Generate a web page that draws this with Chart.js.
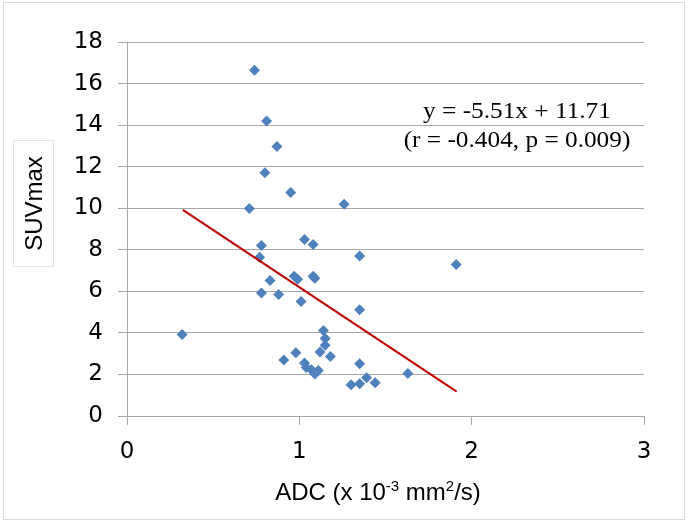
<!DOCTYPE html>
<html>
<head>
<meta charset="utf-8">
<script src="https://cdn.jsdelivr.net/npm/chart.js@4.4.1/dist/chart.umd.min.js"></script>
<style>
  html, body { margin: 0; padding: 0; background: #fff; }
  #wrap { width: 688px; height: 523px; position: relative; }
</style>
</head>
<body>
<div id="wrap"><canvas id="suvChart" width="688" height="523"></canvas></div>
<script>
// ADC (x 10^-3 mm2/s) vs SUVmax
const adcValues = [0.74, 0.81, 0.87, 0.80, 0.95, 0.71, 1.26, 0.78, 0.77, 1.03,
  1.08, 1.35, 1.91, 0.97, 0.99, 1.08, 1.09, 0.83, 0.78, 0.88,
  1.01, 1.35, 0.32, 1.14, 1.15, 1.15, 1.12, 1.18, 0.98, 0.91,
  1.03, 1.04, 1.07, 1.11, 1.09, 1.35, 1.63, 1.30, 1.35, 1.39, 1.44];
const suvValues = [16.64, 14.2, 12.97, 11.71, 10.76, 9.99, 10.19, 8.2, 7.64, 8.5,
  8.26, 7.7, 7.29, 6.73, 6.58, 6.73, 6.63, 6.52, 5.92, 5.85,
  5.51, 5.11, 3.92, 4.12, 3.73, 3.41, 3.08, 2.86, 3.04, 2.69,
  2.55, 2.33, 2.22, 2.19, 2.02, 2.51, 2.05, 1.51, 1.55, 1.84, 1.6];

// regression line end points
const trendX = [0.324, 1.913];
const trendY = [9.92, 1.17];

const xTicks = [0, 1, 2, 3];
const yTicks = [0, 2, 4, 6, 8, 10, 12, 14, 16, 18];

const equationLines = ["y = -5.51x + 11.71", "(r = -0.404, p = 0.009)"];
// x title pieces: [text, superscript?]
const xTitleParts = [["ADC (x 10", false], ["-3", true], [" mm", false], ["2", true], ["/s)", false]];
const yTitle = "SUVmax";

const tickFont = "'DejaVu Sans', Verdana, sans-serif";
const titleFont = "'Liberation Sans', Arial, sans-serif";
const gridColor = "#a6a6a6";

function drawParts(c, parts, cx, baseline, size) {
  const big = size + "px " + titleFont;
  const small = Math.round(size * 0.62) + "px " + titleFont;
  let total = 0;
  parts.forEach(p => { c.font = p[1] ? small : big; total += c.measureText(p[0]).width; });
  let x = cx - total / 2;
  parts.forEach(p => {
    c.font = p[1] ? small : big;
    c.fillText(p[0], x, p[1] ? baseline - size * 0.36 : baseline);
    x += c.measureText(p[0]).width;
  });
}

// extra drawing: frame, titles, equation text
const decorations = {
  id: "decorations",
  afterDraw(chart) {
    const c = chart.ctx;
    c.save();
    // outer frame
    c.strokeStyle = "#d9d9d9";
    c.lineWidth = 1;
    c.strokeRect(3.5, 2.5, 681, 517);
    // y title in a light box
    c.strokeStyle = "#e3e3e3";
    c.strokeRect(13.5, 140.5, 40, 126);
    c.translate(41.5, 203.5);
    c.rotate(-Math.PI / 2);
    c.fillStyle = "#000";
    c.font = "24px " + titleFont;
    c.textAlign = "center";
    c.textBaseline = "alphabetic";
    c.fillText(yTitle, 0, 0);
    c.restore();

    c.save();
    c.fillStyle = "#000";
    c.textAlign = "left";
    c.textBaseline = "alphabetic";
    drawParts(c, xTitleParts, 378, 500, 24);
    c.restore();

    c.save();
    c.fillStyle = "#000";
    c.textAlign = "center";
    c.textBaseline = "alphabetic";
    c.font = "23px 'Liberation Serif', 'Times New Roman', serif";
    c.translate(517, 0);
    c.scale(1.1, 1);
    c.fillText(equationLines[0], 0, 118);
    c.fillText(equationLines[1], 0, 146.5);
    c.restore();
  }
};

const ctx = document.getElementById("suvChart");
const suvChart = new Chart(ctx, {
  type: "scatter",
  data: {
    datasets: [
      {
        label: "Trend",
        type: "line",
        data: trendX.map((x, i) => ({ x: x, y: trendY[i] })),
        borderColor: "#c00000",
        borderWidth: 2,
        pointRadius: 0,
        fill: false,
        order: 0
      },
      {
        label: "SUVmax",
        data: adcValues.map((x, i) => ({ x: x, y: suvValues[i] })),
        pointStyle: "rectRot",
        pointRadius: 5.5,
        backgroundColor: "#4f81bd",
        borderColor: "#4f81bd",
        borderWidth: 0,
        order: 1
      }
    ]
  },
  options: {
    responsive: false,
    animation: false,
    layout: { padding: { left: 0, top: 42, right: 44, bottom: 0 } },
    plugins: {
      legend: { display: false },
      tooltip: { enabled: false }
    },
    scales: {
      x: {
        type: "linear",
        min: 0,
        max: 3,
        afterBuildTicks(scale) { scale.ticks = xTicks.map(v => ({ value: v })); },
        afterFit(scale) { scale.height = 107; },
        ticks: { color: "#000", font: { family: tickFont, size: 23 }, padding: 13 },
        grid: { drawOnChartArea: false, drawTicks: true, tickLength: 9, color: gridColor },
        border: { display: false }
      },
      y: {
        min: 0,
        max: 18,
        afterBuildTicks(scale) { scale.ticks = yTicks.map(v => ({ value: v })); },
        afterFit(scale) { scale.width = 127; },
        ticks: { color: "#000", font: { family: tickFont, size: 23 }, padding: 15 },
        grid: { color: gridColor, tickLength: 9 },
        border: { display: true, color: gridColor }
      }
    }
  },
  plugins: [decorations]
});
</script>
</body>
</html>
